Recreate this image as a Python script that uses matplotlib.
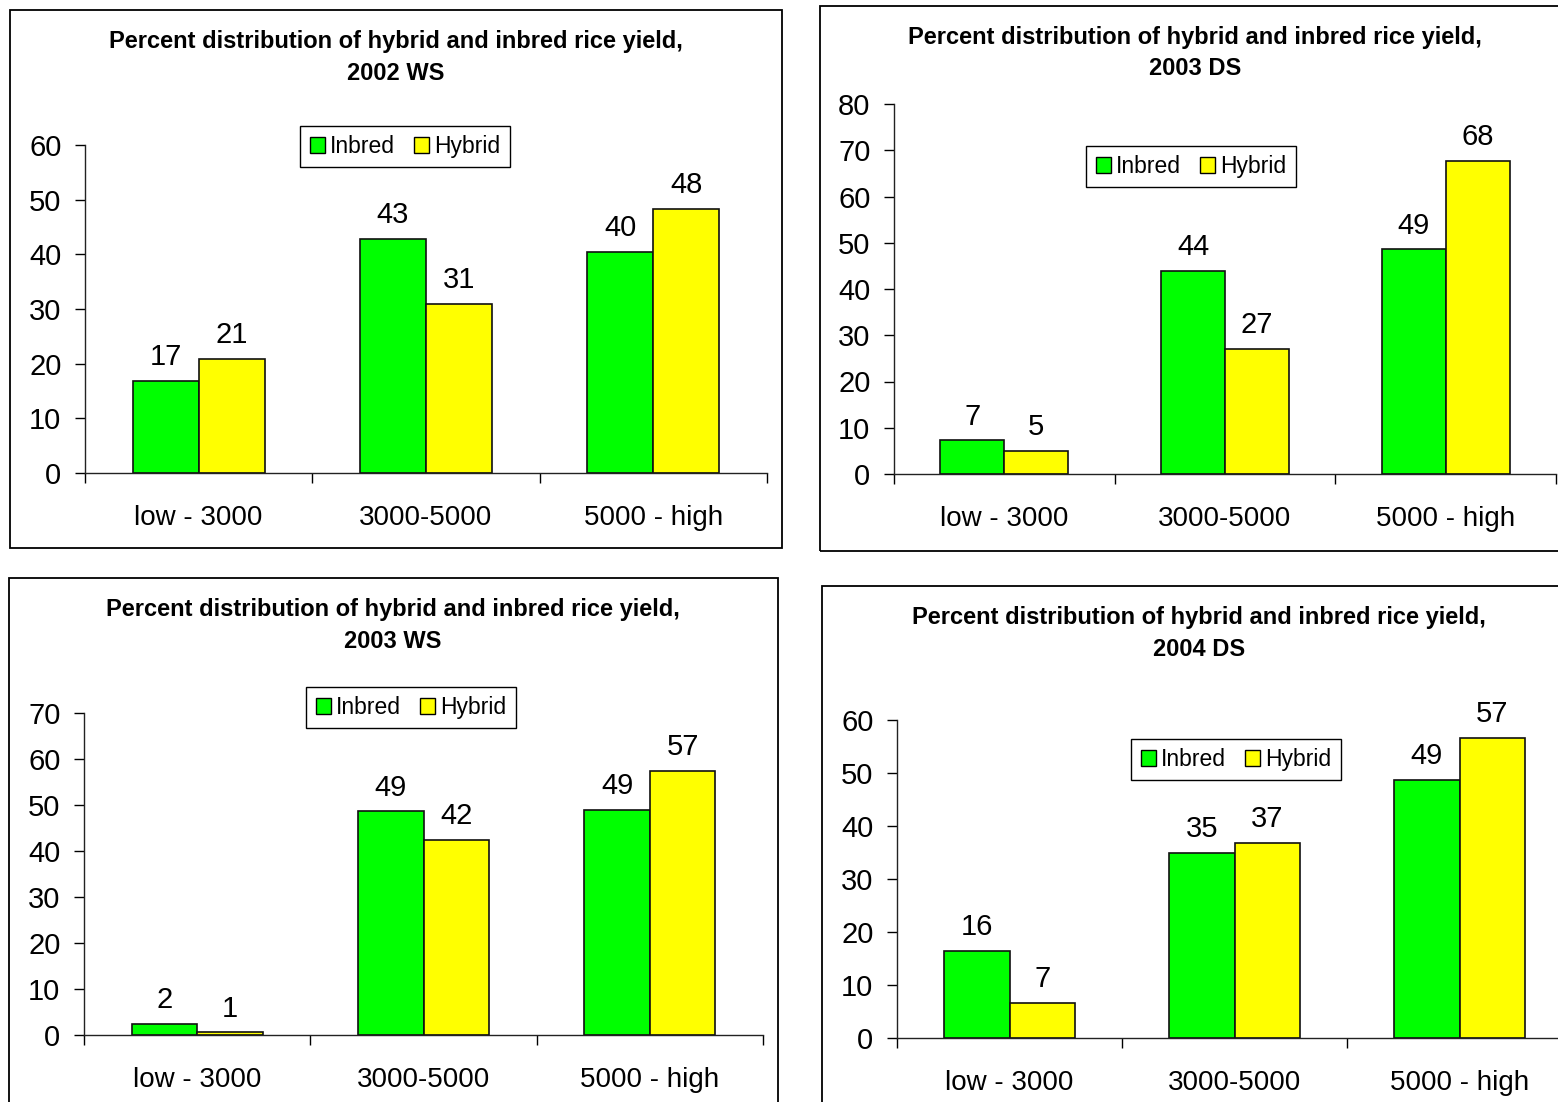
import matplotlib
matplotlib.use("Agg")
import matplotlib.pyplot as plt
from matplotlib.patches import Rectangle, Patch
import numpy as np

plt.rcParams["font.family"] = ["Liberation Sans", "DejaVu Sans"]

# --- Data ---
categories = ["low - 3000", "3000-5000", "5000 - high"]
series_names = ["Inbred", "Hybrid"]
titles = [
    "Percent distribution of hybrid and inbred rice yield,\n2002 WS",
    "Percent distribution of hybrid and inbred rice yield,\n2003 DS",
    "Percent distribution of hybrid and inbred rice yield,\n2003 WS",
    "Percent distribution of hybrid and inbred rice yield,\n2004 DS",
]
# bar heights (labels show them rounded)
inbred_2002ws = [16.8, 42.8, 40.5]
hybrid_2002ws = [20.9, 31.0, 48.3]
inbred_2003ds = [7.3, 43.9, 48.6]
hybrid_2003ds = [5.0, 27.0, 67.7]
inbred_2003ws = [2.4, 48.6, 48.9]
hybrid_2003ws = [0.6, 42.4, 57.4]
inbred_2004ds = [16.4, 34.9, 48.7]
hybrid_2004ds = [6.6, 36.8, 56.6]
ymax = [60, 80, 70, 60]

GREEN = "#00FF00"
YELLOW = "#FFFF00"
W, H = 1558, 1102

fig = plt.figure(figsize=(W / 100, H / 100), dpi=100)


def fx(px):
    return px / W


def fy(py):
    return 1 - py / H


# pixel layout per panel: border box, axes box, title centre, legend centre
panels = [
    dict(border=(10, 10, 782, 548), ax=(85, 767, 473), title=(396, 57.5), leg=(405, 146.5)),
    dict(border=(820, 6, 1575, 551), ax=(894, 1556, 474), title=(1195, 53), leg=(1191, 166.5)),
    dict(border=(9, 578, 778, 1120), ax=(84, 763, 1035), title=(393, 625.5), leg=(411, 707.5)),
    dict(border=(822, 586, 1575, 1120), ax=(897, 1572, 1038), title=(1199, 633.5), leg=(1236, 759.5)),
]
tops_px = [145, 104, 713, 720]
data = [
    (inbred_2002ws, hybrid_2002ws),
    (inbred_2003ds, hybrid_2003ds),
    (inbred_2003ws, hybrid_2003ws),
    (inbred_2004ds, hybrid_2004ds),
]

for i, p in enumerate(panels):
    x0, y0, x1, y1 = p["border"]
    fig.patches.append(Rectangle((fx(x0), fy(y1)), fx(x1 - x0), (y1 - y0) / H,
                                 transform=fig.transFigure, fill=False,
                                 edgecolor="black", lw=1.3))

    l, r, b = p["ax"]
    t = tops_px[i]
    ax = fig.add_axes([fx(l), fy(b), fx(r - l), (b - t) / H])
    inb, hyb = data[i]
    x = np.arange(len(categories))
    bw = 0.29
    b1 = ax.bar(x - bw / 2, inb, bw, color=GREEN, edgecolor="#111111", lw=1.2)
    b2 = ax.bar(x + bw / 2, hyb, bw, color=YELLOW, edgecolor="#111111", lw=1.2)
    for bars in (b1, b2):
        for rect in bars:
            h = rect.get_height()
            ax.annotate(f"{h:.0f}", (rect.get_x() + rect.get_width() / 2, h),
                        xytext=(0, 7), textcoords="offset points",
                        ha="center", va="bottom", fontsize=21)

    ax.set_xlim(-0.5, 2.5)
    ax.set_ylim(0, ymax[i])
    ax.set_yticks(np.arange(0, ymax[i] + 1, 10))
    ax.set_xticks(x)
    ax.set_xticklabels(categories)
    ax.set_xticks([-0.5, 0.5, 1.5, 2.5], minor=True)
    ax.tick_params(axis="x", which="major", length=0, pad=23, labelsize=20)
    ax.tick_params(axis="x", which="minor", length=7, width=1, direction="out")
    ax.tick_params(axis="y", length=7, width=1, pad=10, labelsize=21)
    for s in ("top", "right"):
        ax.spines[s].set_visible(False)
    for s in ("left", "bottom"):
        ax.spines[s].set_linewidth(1)
        ax.spines[s].set_color("#222222")
    ax.set_facecolor("none")

    tx, ty = p["title"]
    fig.text(fx(tx), fy(ty), titles[i], ha="center", va="center",
             fontsize=17, fontweight="bold", linespacing=1.45)

    lx, ly = p["leg"]
    handles = [Patch(facecolor=GREEN, edgecolor="black", lw=1),
               Patch(facecolor=YELLOW, edgecolor="black", lw=1)]
    leg = ax.legend(handles, series_names, loc="center",
                    bbox_to_anchor=(fx(lx), fy(ly)), bbox_transform=fig.transFigure,
                    ncol=2, fontsize=16.5, frameon=True, fancybox=False,
                    edgecolor="black", framealpha=1, handlelength=0.65,
                    handleheight=0.65, handletextpad=0.25, columnspacing=0.8,
                    borderpad=0.4, borderaxespad=0)
    leg.get_frame().set_linewidth(1)

fig.savefig("out.png", dpi=100)
